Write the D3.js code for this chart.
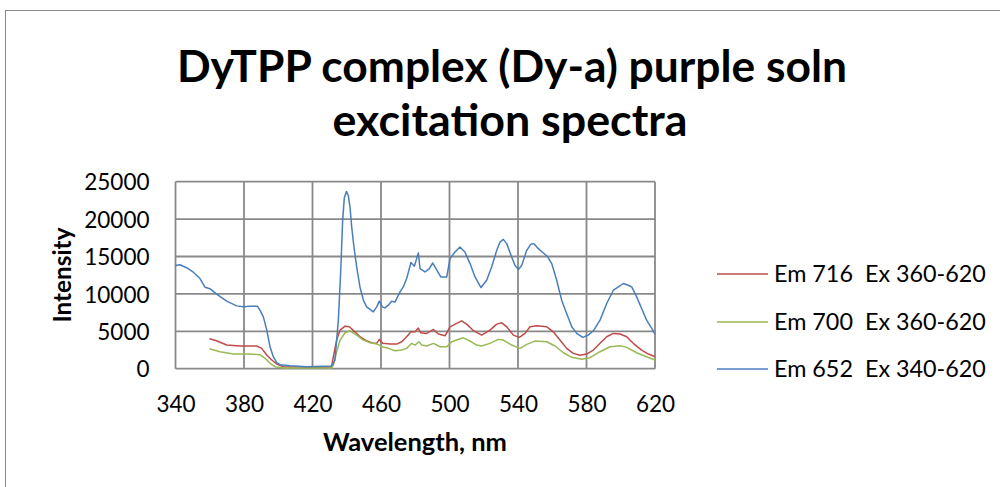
<!DOCTYPE html>
<meta charset="utf-8">
<script src="https://d3js.org/d3.v7.min.js"></script>
<style>
  body { margin: 0; background: #fff; }
  text { font-family: Lato, "Open Sans", sans-serif; fill: #000; }
</style>
<body>
<div id="chart"></div>
<script>
// Em 716, excitation 360-620
var em716Nm = [359.8, 364, 369.9, 377.7, 387.4, 390.3, 393.3, 396.2, 399.1, 403, 420, 431, 432.2, 434.1, 436.1, 439, 441.5, 444.8, 447.7, 451.6, 455.5, 457.5, 459, 461, 465.3, 469.2, 472.1, 475, 477.5, 479.9, 481.8, 483.2, 486.7, 490.6, 493.5, 497.4, 500.3, 504.2, 507.1, 510, 513.9, 518.8, 523.6, 527.6, 530.5, 533.4, 537.3, 540.8, 544.1, 547, 550.9, 556.8, 560.6, 564.5, 568.4, 572.3, 576.2, 580.1, 584, 587.9, 591.8, 595.7, 599.6, 603.5, 607.3, 612.2, 616.1, 620];
var em716 = [4000, 3730, 3160, 3030, 3030, 2720, 1830, 1160, 630, 270, 200, 190, 1600, 3830, 5160, 5690, 5600, 4930, 4270, 3730, 3390, 3390, 3920, 3390, 3290, 3290, 3600, 4270, 4930, 4930, 5430, 4800, 4720, 5250, 4630, 4400, 5600, 6050, 6400, 5960, 5100, 4490, 5160, 5960, 6130, 5600, 4490, 4190, 4720, 5600, 5730, 5600, 4930, 3830, 2720, 2050, 1790, 1960, 2490, 3390, 4270, 4720, 4630, 4270, 3390, 2490, 1960, 1600];

// Em 700, excitation 360-620
var em700Nm = [359.8, 366, 373.8, 383.5, 389.3, 392.3, 395.2, 398.1, 403, 431, 432.2, 434.1, 436.1, 439, 441.9, 445.8, 449.7, 453.6, 457.5, 459, 460.4, 464.3, 468.2, 472.1, 475, 477.9, 479.9, 482.2, 483.8, 486.7, 490.6, 494.5, 498.4, 501.3, 504.2, 508.1, 512, 515.9, 518.8, 523.6, 528.5, 531.4, 536.3, 541.2, 545.1, 549.9, 556.8, 561.6, 566.5, 571.4, 577.2, 582, 587.9, 593.7, 599.6, 603.5, 609.3, 615.1, 620];
var em700 = [2670, 2270, 1960, 1960, 1870, 1390, 720, 270, 90, 90, 490, 2270, 3830, 4800, 5070, 4490, 3830, 3470, 3290, 3150, 2930, 2720, 2400, 2490, 2720, 3390, 3160, 3600, 3160, 3030, 3390, 2930, 2930, 3600, 3830, 4130, 3700, 3160, 3030, 3390, 3920, 3830, 3160, 2720, 3250, 3690, 3600, 3030, 2130, 1520, 1250, 1470, 2270, 2930, 3070, 2850, 2130, 1600, 1160];

// Em 652, excitation 340-620
var em652Nm = [340, 342.6, 346.5, 350.4, 354.3, 357.2, 360.1, 364, 369.9, 375.7, 379.6, 383.5, 387.8, 389.3, 391.3, 393.3, 395.2, 397.1, 399.1, 401, 406.9, 416.6, 431.2, 433.1, 435.1, 436.5, 437.6, 438.6, 439.8, 440.9, 441.9, 442.9, 444.2, 445.8, 447.7, 449.7, 451.6, 453.6, 455.5, 457.5, 459, 460.8, 462.3, 464.3, 466.2, 468.2, 471.1, 473, 475, 477.5, 479.5, 480.8, 481.8, 482.8, 485.7, 488.2, 490.2, 492.1, 494.9, 498.4, 500.3, 503.2, 506.1, 509, 512, 514.9, 518.4, 521.7, 524.6, 527.6, 529.5, 531.4, 533.4, 536.3, 538.2, 540.2, 542.2, 545.1, 547.4, 549.3, 551.9, 554.8, 557.1, 559.7, 562.6, 565.5, 568.4, 571.4, 574.3, 577.8, 581, 584, 587.9, 591.8, 595.7, 598.6, 601.5, 604.4, 606.4, 609.3, 612.2, 615.1, 618.1, 620];
var em652 = [13800, 13900, 13500, 12900, 12050, 10900, 10700, 9960, 9030, 8400, 8270, 8360, 8360, 7830, 6930, 5160, 2930, 1600, 800, 530, 400, 270, 360, 1160, 6490, 13160, 19800, 22900, 23700, 23160, 21600, 18930, 16270, 13600, 10930, 9160, 8270, 7920, 7600, 8270, 9030, 8270, 8130, 8490, 9030, 8930, 10270, 10930, 12050, 14190, 13690, 14720, 15470, 13390, 12930, 13390, 14130, 13390, 12270, 12270, 14720, 15600, 16270, 15600, 14050, 12270, 10850, 11830, 13600, 15830, 16930, 17290, 16720, 14930, 13830, 13250, 13830, 15830, 16630, 16720, 16050, 15470, 15030, 14050, 11830, 9160, 7390, 5600, 4720, 4190, 4490, 5070, 6490, 8720, 10490, 10930, 11390, 11160, 10930, 9600, 8050, 6490, 5390, 4630];

var xTicks = [340, 380, 420, 460, 500, 540, 580, 620];
var yTicks = [0, 5000, 10000, 15000, 20000, 25000];

var seriesNames = ["Em 716  Ex 360-620", "Em 700  Ex 360-620", "Em 652  Ex 340-620"];
var seriesColors = ["#be4b48", "#98b954", "#4a7ebb"];

var width = 1000, height = 487;

var svg = d3.select("#chart")
  .append("svg")
    .attr("width", width)
    .attr("height", height);

// outer chart frame
svg.append("rect")
  .attr("x", 5.5).attr("y", 10.5)
  .attr("width", 1000).attr("height", 500)
  .attr("fill", "none")
  .attr("stroke", "#898989");

var x = d3.scaleLinear().domain([340, 620]).range([175.5, 655]);
var y = d3.scaleLinear().domain([0, 25000]).range([368.7, 181.7]);

// shrink/grow a text node until its width is w
function fit(sel, w) {
  var s = parseFloat(sel.style("font-size"));
  var len = sel.node().getComputedTextLength();
  sel.style("font-size", (s * w / len) + "px");
}

// grid
svg.append("g").selectAll("line")
  .data(yTicks)
  .join("line")
    .attr("x1", x(340)).attr("x2", x(620))
    .attr("y1", function(d) { return y(d); })
    .attr("y2", function(d) { return y(d); })
    .attr("stroke", "#898989")
    .attr("stroke-width", 1.8);

svg.append("g").selectAll("line")
  .data(xTicks)
  .join("line")
    .attr("x1", function(d) { return x(d); })
    .attr("x2", function(d) { return x(d); })
    .attr("y1", y(0)).attr("y2", y(25000))
    .attr("stroke", "#898989")
    .attr("stroke-width", 1.8);

// axes (labels only, no tick marks)
var yAxis = svg.append("g")
  .attr("transform", "translate(" + (x(340) - 26) + ",0)")
  .call(d3.axisLeft(y).tickValues(yTicks).tickSize(0).tickFormat(d3.format("d")));
yAxis.select(".domain").remove();
yAxis.selectAll("text")
  .style("font-family", "Lato")
  .style("font-size", "22.5px")
  .attr("x", 0)
  .attr("dy", "0.36em");

var xAxis = svg.append("g")
  .attr("transform", "translate(0," + (y(0) + 35) + ")")
  .call(d3.axisBottom(x).tickValues(xTicks).tickSize(0).tickFormat(d3.format("d")));
xAxis.select(".domain").remove();
xAxis.selectAll("text")
  .style("font-family", "Lato")
  .style("font-size", "22.5px")
  .attr("y", 0)
  .attr("dy", "0.36em");

// series lines
var line = d3.line()
  .x(function(d) { return x(d[0]); })
  .y(function(d) { return y(d[1]); });

var series = [
  d3.zip(em716Nm, em716),
  d3.zip(em700Nm, em700),
  d3.zip(em652Nm, em652)
];

series.forEach(function(s, i) {
  svg.append("path")
    .datum(s)
    .attr("fill", "none")
    .attr("stroke", seriesColors[i])
    .attr("stroke-width", 1.5)
    .attr("stroke-linejoin", "round")
    .attr("d", line);
});

// titles
var t1 = svg.append("text")
  .attr("x", 512).attr("y", 82)
  .attr("text-anchor", "middle")
  .style("font-weight", "bold")
  .style("font-size", "42px")
  .text("DyTPP complex (Dy-a) purple soln");
fit(t1, 670);

var t2 = svg.append("text")
  .attr("x", 510).attr("y", 136)
  .attr("text-anchor", "middle")
  .style("font-weight", "bold")
  .style("font-size", "42px")
  .text("excitation spectra");
fit(t2, 355);

var xt = svg.append("text")
  .attr("x", 415).attr("y", 451)
  .attr("text-anchor", "middle")
  .style("font-weight", "bold")
  .style("font-size", "23px")
  .text("Wavelength, nm");
fit(xt, 184);

var yt = svg.append("text")
  .attr("transform", "translate(71,275) rotate(-90)")
  .attr("text-anchor", "middle")
  .style("font-weight", "bold")
  .style("font-size", "23px")
  .text("Intensity");
fit(yt, 95);

// legend
var legend = svg.append("g").selectAll("g")
  .data(seriesNames)
  .join("g")
    .attr("transform", function(d, i) { return "translate(717," + [274, 322, 369][i] + ")"; });

legend.append("line")
  .attr("x1", 0).attr("x2", 51)
  .attr("stroke", function(d, i) { return seriesColors[i]; })
  .attr("stroke-width", 1.5);

legend.append("text")
  .attr("x", 57)
  .attr("dy", "0.36em")
  .style("font-size", "23px")
  .attr("xml:space", "preserve")
  .text(function(d) { return d; })
  .each(function() { fit(d3.select(this), 212); });
</script>
</body>
